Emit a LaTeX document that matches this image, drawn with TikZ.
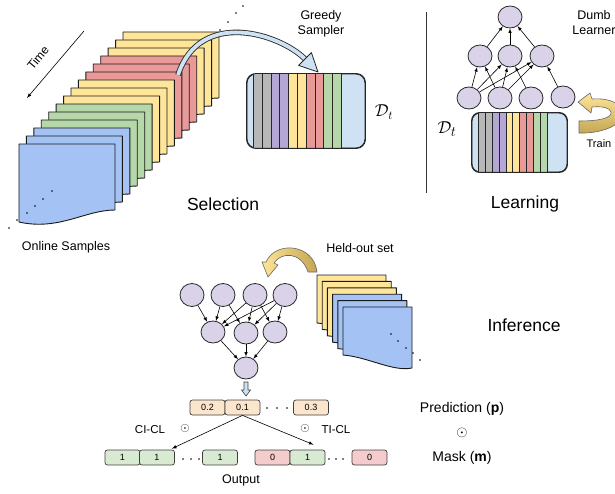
\documentclass[tikz,border=0pt]{standalone}
\usepackage{amsmath,amssymb}
\usepackage{xcolor}
\usepackage{fontspec}
\setmainfont{Liberation Sans}
\usepackage{tikz}
\usetikzlibrary{arrows}
\usetikzlibrary{shapes.geometric}

\definecolor{skyblu}{HTML}{A4C2F4}
\definecolor{sage}{HTML}{B6D7A8}
\definecolor{butter}{HTML}{FFE599}
\definecolor{rosy}{HTML}{EA9999}
\definecolor{lilac}{HTML}{B4A7D6}
\definecolor{ash}{HTML}{B7B7B7}
\definecolor{paleblu}{HTML}{CFE2F3}
\definecolor{lavnd}{HTML}{D9D2E9}
\definecolor{peach}{HTML}{FCE5CD}
\definecolor{mintg}{HTML}{D9EAD3}
\definecolor{pinkr}{HTML}{F4CCCC}
\definecolor{khaki}{HTML}{C4A552}

\begin{document}
\begin{tikzpicture}[x=1pt,y=-1pt,
    neuron/.style={ellipse,draw=black!85,fill=lavnd,minimum width=24pt,minimum height=22pt,inner sep=0pt,line width=0.8pt},
    link/.style={->,>=latex,line width=0.6pt},
    cell/.style={draw=black!75,rounded corners=2.5pt,minimum width=35pt,minimum height=15pt,inner sep=0pt,font=\fontsize{9}{9}\selectfont,line width=0.7pt},
    title/.style={font=\fontsize{17.5}{20}\selectfont},
    caption/.style={font=\fontsize{12.5}{15}\selectfont,align=center},
    small/.style={font=\fontsize{11.5}{13}\selectfont},
    sheet/.style={draw=black!90,line width=0.9pt,line join=round}]

  \useasboundingbox (0,0) rectangle (615,494);

  % selection: online stream
  \foreach \c [count=\i from 0] in {butter,butter,butter,rosy,rosy,rosy,butter,butter,butter,sage,sage,sage,skyblu,skyblu,skyblu} {
    \pgfmathsetmacro{\xa}{123-7.43*\i}
    \pgfmathsetmacro{\ya}{32+8*\i}
    \filldraw[sheet,fill=\c] (\xa,\ya) -- (\xa+96,\ya) -- (\xa+96,\ya+66)
      .. controls (\xa+66,\ya+66) and (\xa+40,\ya+87) .. (\xa,\ya+78) -- cycle;
  }
  \foreach \p in {(220,30),(228,22),(236,13),(243,6),(52,191),(43,199),(35,206),(27,213),(17,220),(9,228)}
    \fill \p circle (0.9);

  \coordinate (tA) at (84,31);
  \coordinate (tB) at (27,98);
  \draw[link] (tA) -- (tB);
  \node[font=\fontsize{12}{12}\selectfont,rotate=50,inner sep=1pt] (time) at (38,58) {Time};

  \coordinate (gsA) at (178,75);
  \coordinate (gsB) at (305,59);
  \draw[line width=5.5pt,black!85] (gsA) .. controls (200,8) and (280,34) .. (gsB);
  \draw[line width=3.8pt,paleblu] (gsA) .. controls (200,8) and (280,34) .. (gsB);
  \filldraw[fill=paleblu,draw=black!85,line width=0.8pt,line join=round]
    (298.6,65.4) -- (318,72) -- (311.4,52.6) -- cycle;

  \node[draw=black!85,line width=0.9pt,rounded corners=9pt,fill=paleblu,minimum width=118pt,minimum height=74pt,inner sep=0pt] (dsel) at (306,111) {};
  \begin{scope}
    \clip[rounded corners=9pt] (dsel.north west) rectangle (dsel.south east);
    \foreach \c [count=\i from 0] in {ash,ash,lilac,lilac,butter,butter,rosy,rosy,sage,sage}
      \filldraw[fill=\c,draw=black!85,line width=0.8pt] (253.3+8.8*\i,70) rectangle ++(8.8,82);
  \end{scope}
  \draw[rounded corners=9pt,line width=0.9pt,black!85] (dsel.north west) rectangle (dsel.south east);

  \node[caption] (greedy) at (321,24) {Greedy\\Sampler};
  \node[font=\fontsize{17}{17}\selectfont] (dsellab) at (384,112) {$\mathcal{D}_t$};
  \node[title] (sel) at (223,204) {Selection};
  \node[caption] (online) at (66,247) {Online Samples};

  \coordinate (divtop) at (426,12);
  \coordinate (divbot) at (426,193);
  \draw[black!80,line width=1pt] (divtop) -- (divbot);

  % learning
  \node[neuron] (lt) at (510,17) {};
  \node[neuron] (lm1) at (480,56) {};
  \node[neuron] (lm2) at (510,56) {};
  \node[neuron] (lm3) at (542,56) {};
  \node[neuron] (lb1) at (469,98) {};
  \node[neuron] (lb2) at (500,98) {};
  \node[neuron] (lb3) at (531,98) {};
  \node[neuron] (lb4) at (563,97) {};
  \foreach \a/\b in {lm1/lt,lm2/lt,lm3/lt,lb1/lm1,lb1/lm2,lb1/lm3,lb2/lm1,lb2/lm2,lb2/lm3,lb3/lm2,lb4/lm3}
    \draw[link] (\a) -- (\b);

  \node[draw=black!85,line width=0.9pt,rounded corners=8pt,fill=paleblu,minimum width=95pt,minimum height=59pt,inner sep=0pt] (dlrn) at (519.5,142.5) {};
  \begin{scope}
    \clip[rounded corners=8pt] (dlrn.north west) rectangle (dlrn.south east);
    \foreach \c [count=\i from 0] in {ash,ash,lilac,lilac,butter,butter,rosy,rosy,sage,sage}
      \filldraw[fill=\c,draw=black!85,line width=0.8pt] (478.3+6.9*\i,110) rectangle ++(6.9,66);
  \end{scope}
  \draw[rounded corners=8pt,line width=0.9pt,black!85] (dlrn.north west) rectangle (dlrn.south east);

  \shade[top color=butter,bottom color=khaki,draw=black!60,line width=0.6pt]
    (579,121) -- (579,133) .. controls (605,134) and (628,122) .. (622,110)
    .. controls (618,101) and (605,98) .. (592,99) -- (590,93) -- (578,102) -- (591,113) -- (592,107)
    .. controls (603,106) and (610,108) .. (611,112) .. controls (612,118) and (600,121) .. (579,121) -- cycle;

  \node[caption] (dumb) at (594,23) {Dumb\\Learner};
  \node[font=\fontsize{11}{11}\selectfont] (train) at (599,144) {Train};
  \node[font=\fontsize{19}{19}\selectfont] (dlrnlab) at (447,129) {$\mathcal{D}_t$};
  \node[title] (lrn) at (525,204) {Learning};

  % inference
  \foreach \c [count=\i from 0] in {butter,butter,butter,skyblu,skyblu,skyblu} {
    \pgfmathsetmacro{\xa}{317+5.2*\i}
    \pgfmathsetmacro{\ya}{275+6.4*\i}
    \filldraw[sheet,fill=\c] (\xa,\ya) -- (\xa+69,\ya) -- (\xa+69,\ya+61)
      .. controls (\xa+50,\ya+65) and (\xa+25,\ya+50) .. (\xa,\ya+48) -- cycle;
  }
  \foreach \p in {(391,334),(398,341),(406,348),(413,353),(420,360)}
    \fill \p circle (0.9);

  \shade[left color=butter,right color=khaki,draw=black!60,line width=0.6pt]
    (317,272) .. controls (314,244) and (276,240) .. (266,262)
    -- (262,262) -- (268,277) -- (278,265) -- (274,263)
    .. controls (281,252) and (301,251) .. (308,272) -- cycle;

  \node[neuron,minimum height=23pt] (it1) at (192,295) {};
  \node[neuron,minimum height=23pt] (it2) at (223,295) {};
  \node[neuron,minimum height=23pt] (it3) at (255,295) {};
  \node[neuron,minimum height=23pt] (it4) at (285,295) {};
  \node[neuron] (im1) at (213,332) {};
  \node[neuron] (im2) at (246,333) {};
  \node[neuron] (im3) at (275,332) {};
  \node[neuron] (io) at (246,368) {};
  \foreach \a/\b in {it1/im1,it2/im1,it2/im2,it3/im1,it3/im2,it3/im3,it4/im1,it4/im2,it4/im3,im1/io,im2/io,im3/io}
    \draw[link] (\a) -- (\b);

  \filldraw[fill=paleblu,draw=black!75,line width=0.6pt]
    (244,382) -- (248,382) -- (248,390) -- (250.5,390) -- (246,396) -- (241.5,390) -- (244,390) -- cycle;

  \node[caption] (held) at (360,248) {Held-out set};
  \node[title] (inf) at (524,325) {Inference};

  % prediction and masks
  \node[cell,fill=peach] (p1) at (207.5,407.5) {0.2};
  \node[cell,fill=peach] (p2) at (242.5,407.5) {0.1};
  \node[cell,fill=peach] (p3) at (311,407.5) {0.3};
  \node[cell,fill=mintg] (ml1) at (122.5,457.5) {1};
  \node[cell,fill=mintg] (ml2) at (157,457.5) {1};
  \node[cell,fill=mintg] (ml3) at (220,457.5) {1};
  \node[cell,fill=pinkr] (mr1) at (272.5,457.5) {0};
  \node[cell,fill=mintg] (mr2) at (307.5,457.5) {1};
  \node[cell,fill=pinkr] (mr3) at (369.5,457.5) {0};
  \foreach \p in {(267,408),(277,408),(287,408),(183,459),(191,459),(199,459),(329,459),(336,459),(343,459)}
    \fill \p circle (0.8);

  \draw[link] (p2.south) -- ([xshift=-3pt,yshift=1pt]ml2.north east);
  \draw[link] (p2.south) -- ([xshift=6pt,yshift=5pt]mr2.north);

  \node[small] (cicl) at (150,430) {CI-CL};
  \node[font=\fontsize{13}{13}\selectfont] (cidot) at (185,428) {$\odot$};
  \node[small] (ticl) at (336,430) {TI-CL};
  \node[font=\fontsize{13}{13}\selectfont] (tidot) at (305,428) {$\odot$};
  \node[caption] (out) at (241,480) {Output};

  \node[font=\fontsize{14}{16}\selectfont] (pred) at (462,409) {Prediction (\textbf{p})};
  \node[font=\fontsize{14}{14}\selectfont] (predot) at (462,433) {$\odot$};
  \node[font=\fontsize{14}{16}\selectfont] (mask) at (462,458) {Mask (\textbf{m})};
\end{tikzpicture}
\end{document}
